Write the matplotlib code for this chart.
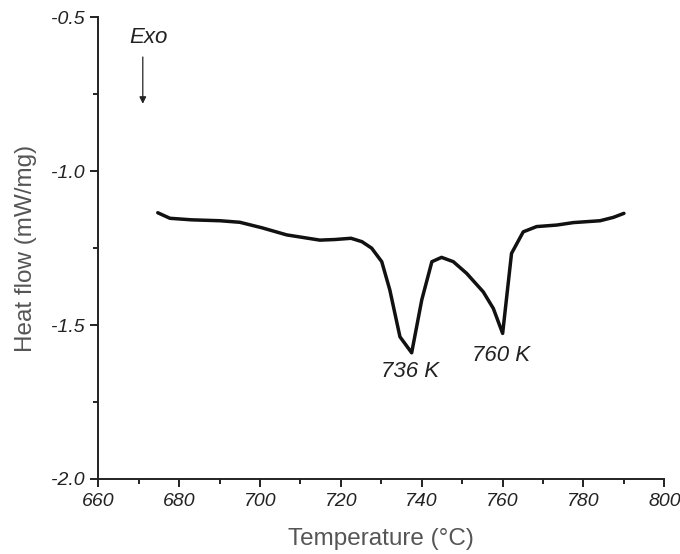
import matplotlib
matplotlib.use('Agg')
import matplotlib.pyplot as plt
from matplotlib.ticker import MultipleLocator

plt.rcParams['font.family'] = ['Liberation Sans', 'DejaVu Sans']

# DSC curve
temp = [674.7, 677.7, 683.0, 690.1, 695.0, 700.5, 706.6, 714.8, 718.5, 722.5,
        725.2, 727.6, 730.1, 732.1, 734.6, 737.5, 740.0, 742.5, 744.9, 747.8,
        751.1, 755.2, 757.7, 760.0, 762.2, 765.1, 768.4, 773.4, 777.5, 784.1,
        787.4, 790.0]
heat = [-1.135, -1.153, -1.158, -1.161, -1.166, -1.184, -1.207, -1.224, -1.222, -1.218,
        -1.229, -1.250, -1.294, -1.386, -1.538, -1.590, -1.418, -1.294, -1.280, -1.294,
        -1.332, -1.392, -1.446, -1.527, -1.267, -1.197, -1.180, -1.175, -1.167, -1.161,
        -1.150, -1.137]

peaks = [(737.0, -1.652, '736 K'), (759.5, -1.600, '760 K')]

fig = plt.figure(figsize=(6.8, 5.54), dpi=100)
ax = fig.add_axes([0.1446, 0.1354, 0.977 - 0.1446, 0.9688 - 0.1354])

ax.plot(temp, heat, color='#111111', linewidth=2.5, solid_joinstyle='round', solid_capstyle='round')

for px, py, txt in peaks:
    ax.text(px, py, txt, ha='center', va='center', fontsize=16, style='italic', color='#222222')

ax.text(672.3, -0.567, 'Exo', ha='center', va='center', fontsize=16, style='italic', color='#222222')
ax.annotate('', xy=(671.0, -0.79), xytext=(671.0, -0.62),
            arrowprops=dict(arrowstyle='-|>', color='#222222', lw=0.9, mutation_scale=10))

ax.set_xlim(660, 800)
ax.set_ylim(-2.0, -0.5)
ax.xaxis.set_major_locator(MultipleLocator(20))
ax.xaxis.set_minor_locator(MultipleLocator(10))
ax.yaxis.set_major_locator(MultipleLocator(0.5))
ax.yaxis.set_minor_locator(MultipleLocator(0.25))
ax.yaxis.set_major_formatter(plt.FuncFormatter(lambda v, p: '%.1f' % v))

ax.spines['top'].set_visible(False)
ax.spines['right'].set_visible(False)
for s in ('left', 'bottom'):
    ax.spines[s].set_linewidth(1.4)
    ax.spines[s].set_color('#222222')

ax.tick_params(which='major', direction='out', length=6, width=1.4, color='#222222',
               labelsize=14, labelcolor='#222222', pad=4)
ax.tick_params(which='minor', direction='out', length=3.5, width=1.4, color='#222222')
for lab in ax.get_xticklabels() + ax.get_yticklabels():
    lab.set_style('italic')

ax.set_xlabel('Temperature (°C)', fontsize=17.5, color='#555555', labelpad=13)
ax.set_ylabel('Heat flow (mW/mg)', fontsize=17.5, color='#555555', labelpad=10)

fig.savefig('out.png', dpi=100)
